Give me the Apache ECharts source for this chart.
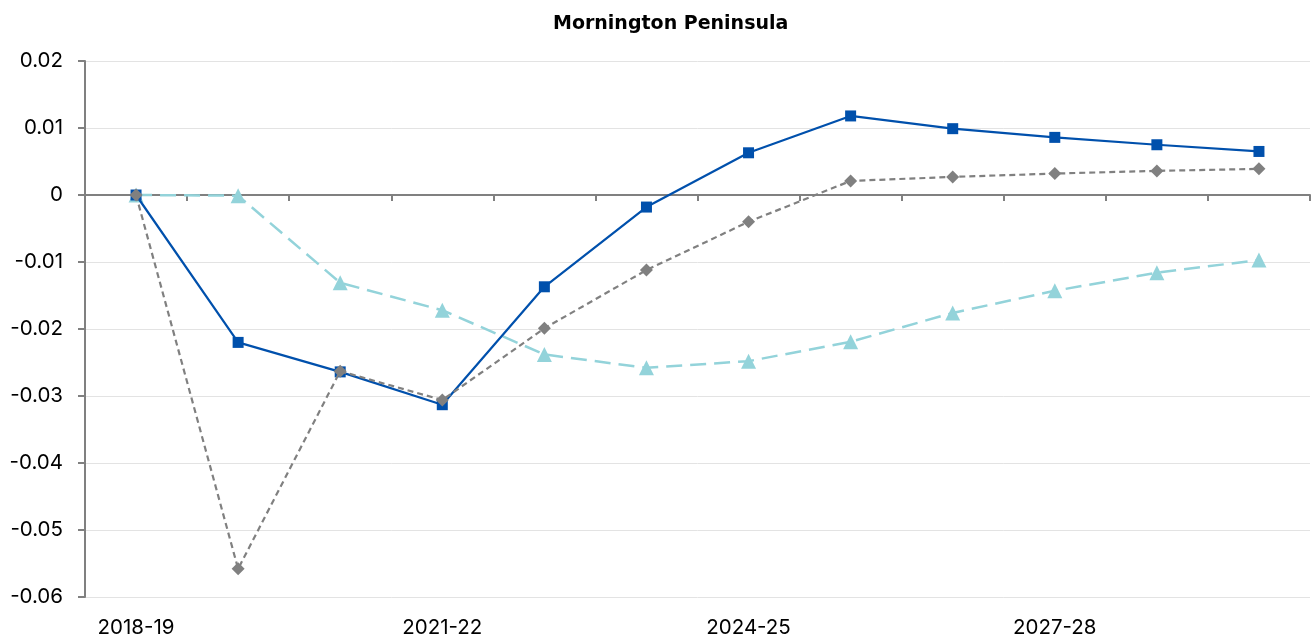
<!DOCTYPE html>
<html>
<head>
<meta charset="utf-8">
<script src="https://cdn.jsdelivr.net/npm/echarts@6/dist/echarts.min.js"></script>
<style>
html,body{margin:0;padding:0;background:#fff;}
#chart{width:1314px;height:642px;}
</style>
</head>
<body>
<div id="chart"></div>
<script>
const title = 'Mornington Peninsula';
const categories = ['2018-19','2019-20','2020-21','2021-22','2022-23','2023-24','2024-25','2025-26','2026-27','2027-28','2028-29','2029-30'];
const seriesBlue = [0, -0.0220, -0.0264, -0.0313, -0.0137, -0.0018, 0.0063, 0.0118, 0.0099, 0.0086, 0.0075, 0.0065];
const seriesGray = [0, -0.0558, -0.0263, -0.0306, -0.0199, -0.0112, -0.0040, 0.0021, 0.0027, 0.0032, 0.0036, 0.0039];
const seriesTeal = [0, -0.0001, -0.0131, -0.0172, -0.0238, -0.0258, -0.0248, -0.0219, -0.0176, -0.0143, -0.0116, -0.0097];
const yTicks = { min: -0.06, max: 0.02, interval: 0.01 };

const font = 'Inter, "Open Sans", sans-serif';
const chart = echarts.init(document.getElementById('chart'));
chart.setOption({
  animation: false,
  backgroundColor: '#fff',
  title: {
    text: title, left: 548, top: 10,
    textStyle: { fontFamily: '"DejaVu Sans", sans-serif', fontSize: 19, fontWeight: 'bold', color: '#000' }
  },
  grid: { left: 85, right: 4, top: 61, bottom: 45 },
  xAxis: [
    {
      type: 'category', data: categories, boundaryGap: true,
      axisLine: { show: true, onZero: true, lineStyle: { color: '#808080', width: 2 } },
      axisTick: { show: true, length: 6, inside: false, lineStyle: { color: '#808080', width: 2 } },
      axisLabel: { show: false },
      splitLine: { show: false }
    },
    {
      type: 'category', data: categories, boundaryGap: true, position: 'bottom',
      axisLine: { show: false, onZero: false },
      axisTick: { show: false },
      axisLabel: { show: true, interval: 2, margin: 20, fontFamily: font, fontSize: 20.5, color: '#000' },
      splitLine: { show: false }
    }
  ],
  yAxis: {
    type: 'value', min: yTicks.min, max: yTicks.max, interval: yTicks.interval,
    axisLine: { show: true, lineStyle: { color: '#808080', width: 2 } },
    axisTick: { show: true, length: 7, lineStyle: { color: '#808080', width: 2 } },
    axisLabel: {
      fontFamily: font, fontSize: 20.5, color: '#000', margin: 22,
      formatter: v => { const r = Math.round(v * 100) / 100; return r === 0 ? '0' : String(r); }
    },
    splitLine: { show: true, lineStyle: { color: '#e3e3e3', width: 1 } }
  },
  series: [
    {
      name: 'teal', type: 'line', data: seriesTeal, xAxisIndex: 0,
      symbol: 'triangle', symbolSize: 15,
      lineStyle: { color: '#93D3DA', width: 2.5, type: [16, 8] },
      itemStyle: { color: '#93D3DA' }, z: 2
    },
    {
      name: 'blue', type: 'line', data: seriesBlue, xAxisIndex: 0,
      symbol: 'rect', symbolSize: 11,
      lineStyle: { color: '#0050AC', width: 2.2, type: 'solid' },
      itemStyle: { color: '#0050AC' }, z: 3
    },
    {
      name: 'gray', type: 'line', data: seriesGray, xAxisIndex: 0,
      symbol: 'diamond', symbolSize: 13,
      lineStyle: { color: '#808080', width: 2.2, type: [6, 4] },
      itemStyle: { color: '#808080' }, z: 4
    }
  ]
});
</script>
</body>
</html>
